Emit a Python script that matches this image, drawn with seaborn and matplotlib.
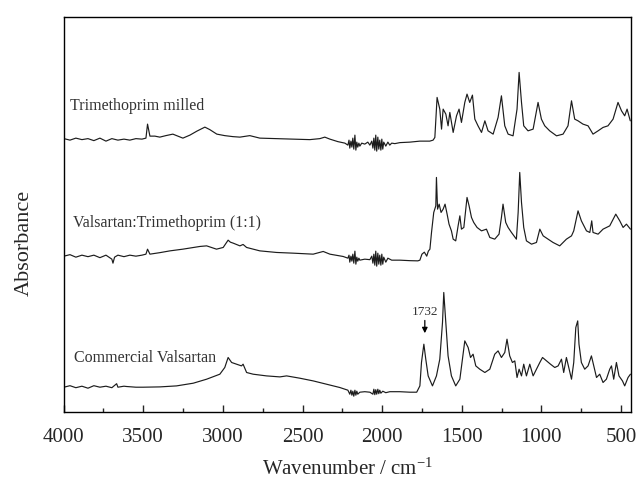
import numpy as np
import pandas as pd
import matplotlib
matplotlib.use("Agg")
import matplotlib.pyplot as plt
from matplotlib.ticker import MultipleLocator
import seaborn as sns

# ---------------- data ----------------
series_names = ["Trimethoprim milled", "Valsartan:Trimethoprim (1:1)", "Commercial Valsartan"]

top_wn = [3998, 3960, 3923, 3885, 3847, 3810, 3772, 3734, 3697, 3659, 3621, 3584, 3546, 3508,
          3483, 3473, 3458, 3427, 3396, 3358, 3314, 3283, 3251, 3207, 3163, 3113, 3082, 3038,
          2988, 2937, 2893, 2831, 2768, 2674, 2561, 2454, 2391, 2360, 2328, 2278, 2234, 2215,
          2208, 2203, 2196, 2190, 2184, 2178, 2171, 2165, 2159, 2153, 2146, 2140, 2128, 2109,
          2090, 2077, 2065, 2058, 2052, 2046, 2040, 2034, 2027, 2021, 2015, 2008, 2002, 1996,
          1990, 1977, 1964, 1952, 1940, 1920, 1889, 1826, 1763, 1701, 1680, 1669, 1655, 1638,
          1627, 1617, 1600, 1586, 1575, 1554, 1533, 1517, 1502, 1481, 1467, 1450, 1433, 1418,
          1398, 1376, 1355, 1335, 1303, 1272, 1251, 1230, 1209, 1178, 1153, 1140, 1125, 1111,
          1084, 1052, 1021, 1000, 979, 948, 905, 864, 833, 811, 791, 770, 739, 707, 676, 644,
          613, 582, 550, 519, 497, 477, 462, 442]
top_abs = [273.5, 272, 274, 272.5, 273.5, 271.5, 274, 271, 273.5, 272, 273, 272, 273.5, 273,
           274, 288, 276, 276, 275, 276.5, 278, 276, 274, 277, 281, 285, 282.5, 278,
           276.5, 275.5, 275, 276.5, 274, 273.5, 273, 272.5, 273.5, 275, 273, 270.5, 269, 267,
           272, 264, 271, 265, 274, 263, 277, 262, 270, 265, 269, 266, 269, 268,
           270, 267, 271, 264, 274, 262, 277, 261, 275, 263, 272, 262, 273, 263,
           270, 266, 270, 267, 269, 268.5, 269.5, 270, 271, 271, 272, 274.7, 314.7, 303,
           283, 303, 298, 286.3, 299.7, 279.7, 296.3, 303, 289.7, 309.7, 318, 309.7, 317, 293,
           286.3, 279.7, 291.3, 281.3, 278, 294.7, 316.3, 286.3, 278, 276.3, 303, 339.7, 309.7, 286.3,
           281.3, 283, 309.7, 293, 286.3, 281.3, 276.3, 278, 286.3, 311.3, 293, 291.3, 288, 286.3, 278, 281.3,
           284.7, 286.3, 293, 309.7, 301.3, 296.3, 303, 291.3]

mid_wn = [3998, 3960, 3923, 3885, 3847, 3810, 3772, 3734, 3697, 3690, 3680, 3659, 3621, 3584,
          3546, 3508, 3483, 3473, 3458, 3396, 3332, 3251, 3144, 3102, 3040, 2998, 2967, 2953,
          2935, 2893, 2873, 2851, 2768, 2663, 2559, 2433, 2370, 2328, 2245, 2215, 2208, 2203,
          2196, 2190, 2184, 2178, 2171, 2165, 2159, 2153, 2146, 2140, 2109, 2077, 2065, 2058,
          2052, 2046, 2040, 2034, 2027, 2021, 2015, 2008, 2002, 1996, 1990, 1977, 1964, 1940,
          1889, 1826, 1776, 1763, 1750, 1735, 1720, 1710, 1700, 1690, 1676, 1663, 1659, 1652,
          1642, 1630, 1617, 1605, 1592, 1580, 1565, 1554, 1538, 1523, 1512, 1502, 1487, 1475,
          1467, 1454, 1439, 1425, 1404, 1376, 1345, 1324, 1293, 1266, 1251, 1241, 1224, 1209,
          1188, 1157, 1146, 1136, 1125, 1111, 1094, 1062, 1031, 1010, 989, 958, 927, 885, 843,
          811, 797, 770, 749, 717, 696, 684, 676, 644, 613, 571, 533, 508, 487, 466, 441]
mid_abs = [156, 157.5, 155, 157, 155.5, 157, 154.5, 157, 153, 149, 155, 157, 155.5, 157,
           156, 157, 158, 163, 158, 159.5, 161.3, 163, 165.7, 166.3, 163, 164.7, 172, 170,
           169, 166.3, 167.7, 164.7, 161.3, 159.7, 159, 158, 160.7, 158, 155.7, 154, 157, 150,
           156, 151, 158, 149, 161, 148, 155, 151, 154, 152, 153, 152.5, 156, 149,
           158, 147, 161, 146, 159, 148, 157, 147, 158, 148, 155, 150, 154, 152,
           152, 151.5, 151.3, 152, 158, 160, 156, 161, 163, 179.7, 199.7, 206.3, 234.7, 203,
           208, 199.7, 203, 208, 198, 188, 181.3, 173, 171.3, 186.3, 196.3, 183, 184.7, 203,
           214.7, 206.3, 194.7, 189.7, 184.7, 181.3, 183, 174.7, 173, 178, 194.7, 208, 189.7, 184.7,
           179.7, 173, 199.7, 239.7, 209.7, 184.7, 171.3, 168, 169.7, 183, 176.3, 173, 169.7, 166.3, 173,
           176.3, 181.3, 201.3, 191.3, 181.3, 179.7, 191.3, 179.7, 178, 183, 186.3, 198, 191.3, 184.7, 188, 183]

bot_wn = [3998, 3960, 3923, 3885, 3847, 3810, 3772, 3734, 3697, 3667, 3659, 3621, 3605, 3546,
          3500, 3396, 3291, 3186, 3102, 3019, 2988, 2967, 2945, 2914, 2883, 2873, 2851, 2810,
          2726, 2642, 2600, 2517, 2433, 2349, 2266, 2215, 2203, 2196, 2190, 2184, 2178, 2171,
          2165, 2159, 2153, 2140, 2109, 2077, 2058, 2052, 2046, 2040, 2034, 2027, 2021, 2015,
          2008, 1996, 1977, 1952, 1889, 1826, 1783, 1763, 1753, 1738, 1726, 1711, 1684, 1659,
          1638, 1621, 1613, 1600, 1586, 1565, 1538, 1512, 1496, 1481, 1460, 1445, 1429, 1412,
          1387, 1355, 1324, 1293, 1272, 1251, 1230, 1216, 1199, 1182, 1167, 1153, 1140, 1125,
          1111, 1094, 1073, 1052, 1031, 1010, 993, 968, 943, 916, 895, 874, 860, 843, 826, 811,
          797, 784, 772, 764, 749, 728, 707, 686, 671, 654, 634, 613, 592, 571, 560, 546, 529,
          513, 491, 477, 456, 441]
bot_abs = [25, 26.5, 24.5, 26, 24, 26.5, 25, 26, 24.5, 28.5, 25, 26, 25.7, 25,
           25, 25.3, 26.3, 29, 33, 38, 44.7, 54.7, 49.7, 48, 46.3, 48, 39.7, 38,
           36.3, 35.3, 36.3, 34, 31.3, 28, 24.7, 22, 18, 22, 17, 21, 16, 22,
           17, 21, 18, 20, 20.5, 20, 18, 23, 17.5, 22.5, 18, 23, 18.5, 22,
           19, 21, 19.5, 20.5, 20.5, 20, 20, 26.3, 49.7, 68, 53, 36.3, 26.3, 36.3,
           53, 89.7, 119.7, 89.7, 56.3, 36.3, 26.3, 33, 53, 71.3, 64.7, 54.7, 58, 46.3,
           43, 39.7, 43, 58, 61.3, 54.7, 59.7, 73, 56.3, 49.7, 51.3, 34.7, 43, 36.3,
           48, 36.3, 48, 36.3, 43, 49.7, 54.7, 51.3, 48, 44.7, 46.3, 53, 39.7, 54.7, 43, 33,
           49.7, 84.7, 91.3, 68, 49.7, 43, 46.3, 56.3, 46.3, 34.7, 38, 29.7, 33, 43, 46.3, 33, 49.7,
           36.3, 31.3, 26.3, 34.7, 38]

label_wn = [3960, 3938, 3932]
label_abs = [307, 190, 55]

marker_wn = 1732
marker_label = "1732"
tick_values = [4000, 3500, 3000, 2500, 2000, 1500, 1000, 500]

# ---------------- figure ----------------
sns.set_theme(style="ticks")
plt.rcParams["font.family"] = ["Liberation Serif", "DejaVu Serif"]
plt.rcParams["mathtext.default"] = "regular"

fig = plt.figure(figsize=(6.36, 4.89), dpi=100)
ax = fig.add_axes([0.100, 0.155, 0.892, 0.808])

line_color = "#1c1c1c"
for wn, ab in [(top_wn, top_abs), (mid_wn, mid_abs), (bot_wn, bot_abs)]:
    df = pd.DataFrame({"wn": wn, "abs": ab})
    sns.lineplot(data=df, x="wn", y="abs", estimator=None, sort=False,
                 color=line_color, lw=0.85, ax=ax)

for name, xw, ya in zip(series_names, label_wn, label_abs):
    ax.text(xw, ya, name, ha="left", va="center", fontsize=11.5, color="#333333")

ax.annotate(marker_label, xy=(marker_wn, 79), xytext=(marker_wn, 95),
            ha="center", va="bottom", fontsize=9.5, color="#333333",
            arrowprops=dict(arrowstyle="-|>", color="black", lw=0.9,
                            mutation_scale=8, shrinkA=0, shrinkB=0))

ax.set_xlim(4000, 438)
ax.set_ylim(0, 395)
ax.set_xticks(tick_values)
ax.set_xticklabels([str(t) for t in tick_values])
ax.xaxis.set_minor_locator(MultipleLocator(250))
ax.tick_params(axis="x", which="major", direction="in", length=5, width=1,
               labelsize=15, pad=11, top=False)
ax.tick_params(axis="x", which="minor", direction="in", length=3, width=1, top=False)
ax.set_yticks([])
ax.set_xlabel("Wavenumber / cm$^{-1}$", fontsize=15, labelpad=8)
ax.set_ylabel("Absorbance", fontsize=16)
ax.yaxis.set_label_coords(-0.053, 0.43)
for s in ax.spines.values():
    s.set_color("black")
    s.set_linewidth(1.0)

fig.savefig("out.png", dpi=100)
